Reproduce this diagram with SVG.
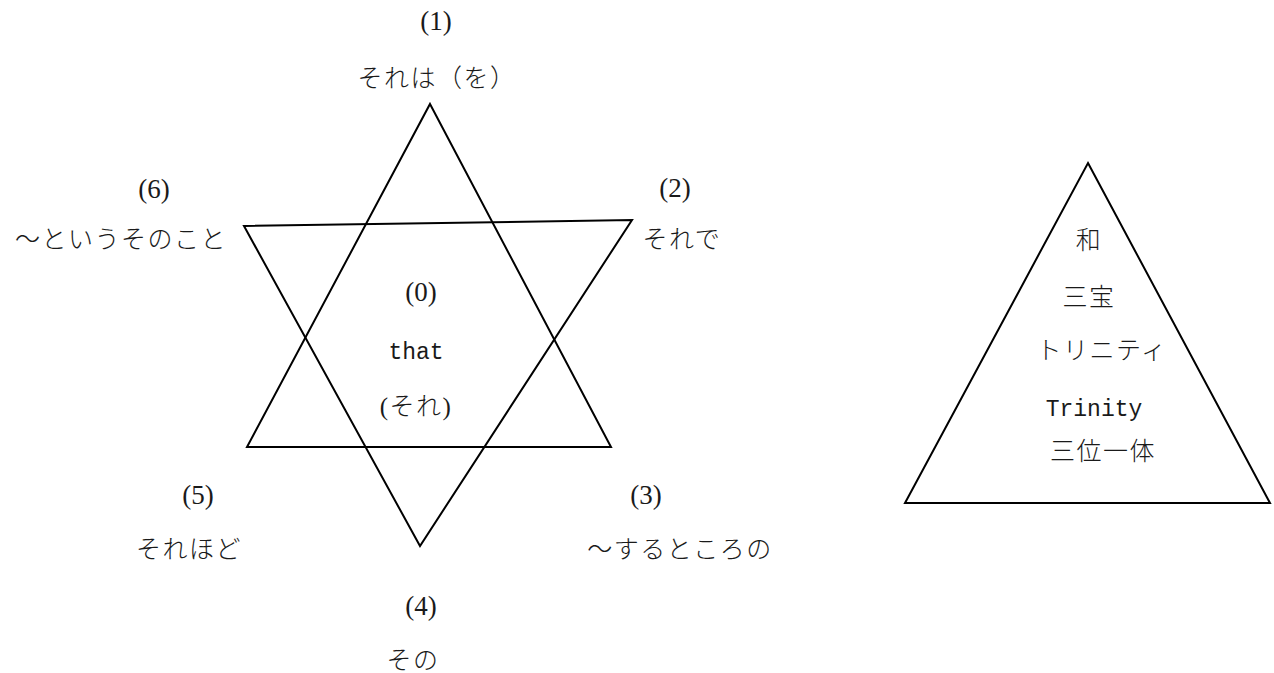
<svg xmlns="http://www.w3.org/2000/svg" width="1274" height="673" viewBox="0 0 1274 673">
<style>
.bg{fill:#fff}
.shape{fill:none;stroke:#000;stroke-width:2;stroke-linejoin:miter}
text{font-family:"Liberation Serif","Noto Sans CJK JP",serif;font-size:25px;fill:#1a1a1a;text-anchor:middle}
.jp{letter-spacing:1.5px;font-weight:300}
.mono{font-family:"Liberation Mono","Noto Sans CJK JP",monospace;font-size:23px}
.num{font-size:27px}
</style>
<rect class="bg" x="0" y="0" width="1274" height="673"/>
<g id="connectors">
  <polygon id="tri-up" class="shape" points="430,104 611,447 247,447"/>
  <polygon id="tri-down" class="shape" points="244,226 632,220 420,546"/>
  <polygon id="tri-right" class="shape" points="1088,163 1270,503 905,503"/>
</g>
<g id="node-1">
  <text class="num" x="436" y="30">(1)</text>
  <text class="jp" x="437" y="87">それは（を）</text>
</g>
<g id="node-6">
  <text class="num" x="154" y="198">(6)</text>
  <text class="jp" x="121" y="248">～というそのこと</text>
</g>
<g id="node-2">
  <text class="num" x="675" y="197">(2)</text>
  <text class="jp" x="682" y="248">それで</text>
</g>
<g id="node-0">
  <text class="num" x="421" y="301">(0)</text>
  <text class="mono" x="416" y="359">that</text>
  <text class="jp" x="416" y="415">(それ)</text>
</g>
<g id="node-5">
  <text class="num" x="198" y="504">(5)</text>
  <text class="jp" x="189" y="558">それほど</text>
</g>
<g id="node-3">
  <text class="num" x="646" y="504">(3)</text>
  <text class="jp" x="680" y="558">～するところの</text>
</g>
<g id="node-4">
  <text class="num" x="421" y="615">(4)</text>
  <text class="jp" x="413" y="669">その</text>
</g>
<g id="node-trinity">
  <text class="jp" x="1089" y="249">和</text>
  <text class="jp" x="1089" y="306">三宝</text>
  <text class="jp" x="1102" y="359">トリニティ</text>
  <text class="mono" x="1094" y="416">Trinity</text>
  <text class="jp" x="1103" y="460">三位一体</text>
</g>
</svg>
